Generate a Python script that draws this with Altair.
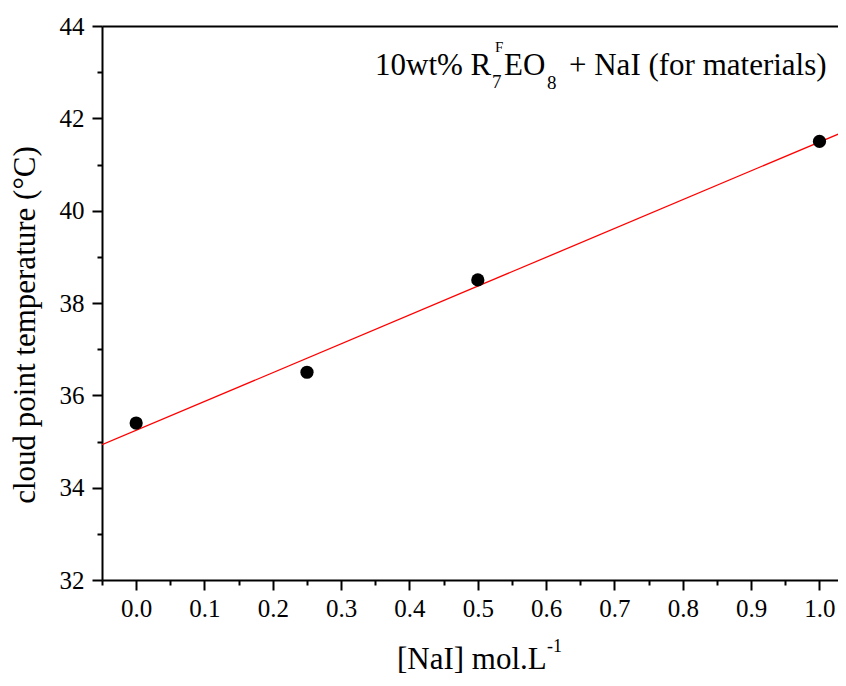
import altair as alt
import pandas as pd

# ---- data ----
nai_conc = [0.0, 0.25, 0.5, 1.0]
cloud_point = [35.4, 36.5, 38.5, 41.5]

fit_x = [-0.05, 1.05]
fit_y = [34.93, 41.80]

x_major = [0.0, 0.1, 0.2, 0.3, 0.4, 0.5, 0.6, 0.7, 0.8, 0.9, 1.0]
x_minor = [-0.05, 0.05, 0.15, 0.25, 0.35, 0.45, 0.55, 0.65, 0.75, 0.85, 0.95]
y_major = [32, 34, 36, 38, 40, 42, 44]
y_minor = [33, 35, 37, 39, 41, 43]

y_title = "cloud point temperature (°C)"
x_title_main = "[NaI] mol.L"
x_title_sup = "-1"
ann_pieces = ["10wt% R", "7", "F", "EO", "8", "+ NaI (for materials)"]

FONT = "Liberation Serif, Times New Roman, serif"
W, H = 736, 554
xscale = alt.Scale(domain=[-0.05, 1.0271], nice=False, zero=False)
yscale = alt.Scale(domain=[32, 44], nice=False, zero=False)

pts = pd.DataFrame({"x": nai_conc, "y": cloud_point})
fit = pd.DataFrame({"x": fit_x, "y": fit_y})

# fit line; carries the top border axis and minor y ticks
line = alt.Chart(fit).mark_line(color="#ff0000", strokeWidth=1.3, clip=True).encode(
    x=alt.X("x:Q", scale=xscale,
            axis=alt.Axis(orient="top", labels=False, ticks=False, domain=True,
                          domainWidth=2, domainColor="black", grid=False, title=None)),
    y=alt.Y("y:Q", scale=yscale,
            axis=alt.Axis(orient="left", values=y_minor, labels=False, tickSize=5,
                          tickWidth=2, tickColor="black", domain=False, grid=False,
                          title=None)),
)

# points; carries major axes
points = alt.Chart(pts).mark_circle(size=175, color="black", opacity=1).encode(
    x=alt.X("x:Q", scale=xscale,
            axis=alt.Axis(orient="bottom", values=x_major, format=".1f", tickSize=10,
                          tickWidth=2, tickColor="black", domain=True, domainWidth=2,
                          domainColor="black", grid=False, title=None, labelPadding=6,
                          labelFont=FONT, labelFontSize=25, labelColor="black",
                          labelFlush=False)),
    y=alt.Y("y:Q", scale=yscale,
            axis=alt.Axis(orient="left", values=y_major, format="d", tickSize=10,
                          tickWidth=2, tickColor="black", domain=True, domainWidth=2,
                          domainColor="black", grid=False, title=None, labelPadding=8,
                          labelFont=FONT, labelFontSize=25, labelColor="black",
                          labelFlush=False)),
)

# invisible copy of the points; carries minor x ticks
minor_x = alt.Chart(pts).mark_point(opacity=0).encode(
    x=alt.X("x:Q", scale=xscale,
            axis=alt.Axis(orient="bottom", values=x_minor, labels=False, tickSize=5,
                          tickWidth=2, tickColor="black", domain=False, grid=False,
                          title=None)),
    y=alt.Y("y:Q", scale=yscale, axis=None),
)

one = alt.Data(values=[{}])


def label(txt, px, py, size, angle=0, align="left"):
    return alt.Chart(one).mark_text(
        font=FONT, fontSize=size, color="black", align=align,
        baseline="alphabetic", angle=angle,
    ).encode(x=alt.value(px), y=alt.value(py), text=alt.value(txt))


texts = [
    label(ann_pieces[0], 273, 49, 31),
    label(ann_pieces[1], 390, 62, 19),
    label(ann_pieces[2], 393, 26, 15),
    label(ann_pieces[3], 402, 49, 31),
    label(ann_pieces[4], 445, 63, 19),
    label(ann_pieces[5], 467, 49, 31),
    label(y_title, -67, 299, 31, angle=270, align="center"),
    label(x_title_main, 295, 643, 31),
    label(x_title_sup, 445, 626, 18),
]

chart = alt.layer(line, points, minor_x, *texts).resolve_axis(
    x="independent", y="independent"
).properties(
    width=W, height=H,
    padding={"left": 94, "top": 18, "right": 0, "bottom": 96},
    autosize=alt.AutoSizeParams(type="none"),
).configure_view(stroke=None).configure(background="white")

chart.save("out.html", embed_options={"renderer": "svg", "actions": False})
